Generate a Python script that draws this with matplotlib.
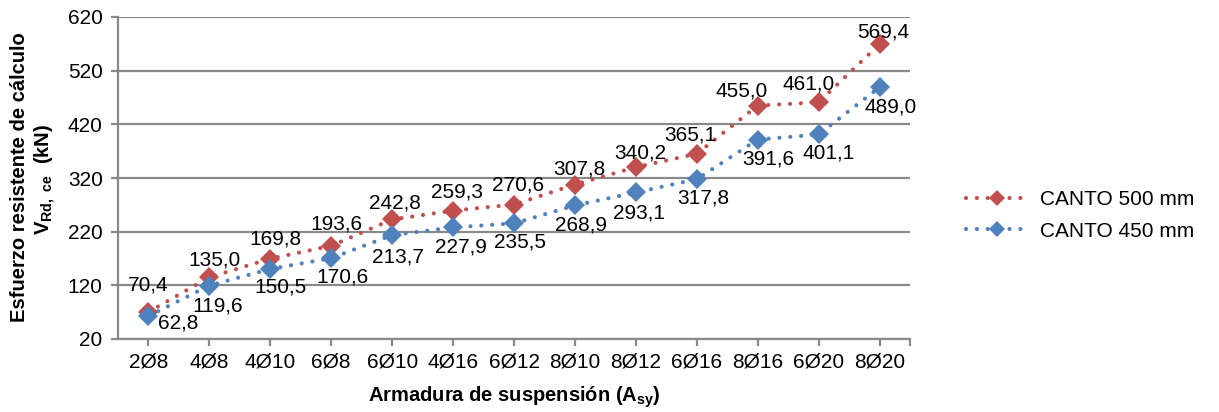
import matplotlib
matplotlib.use("Agg")
import matplotlib.pyplot as plt
from matplotlib.lines import Line2D

# --- data ---
armaduras = ["2Ø8", "4Ø8", "4Ø10", "6Ø8", "6Ø10", "4Ø16", "6Ø12",
             "8Ø10", "8Ø12", "6Ø16", "8Ø16", "6Ø20", "8Ø20"]
canto_500 = [70.4, 135.0, 169.8, 193.6, 242.8, 259.3, 270.6,
             307.8, 340.2, 365.1, 455.0, 461.0, 569.4]
canto_450 = [62.8, 119.6, 150.5, 170.6, 213.7, 227.9, 235.5,
             268.9, 293.1, 317.8, 391.6, 401.1, 489.0]

# desplazamiento de etiquetas (px, y hacia abajo positivo)
off_500 = [(0, -27), (5, -17), (5, -20), (5, -22), (3, -16), (4, -19), (4, -20),
           (4, -16), (4, -14), (-6, -19), (-16, -15), (-10, -18), (4, -12)]
off_450 = [(30, 7), (8, 20), (10, 18), (11, 19), (6, 22), (8, 20), (6, 19),
           (6, 20), (3, 21), (7, 19), (11, 19), (10, 19), (11, 20)]

RED = "#C0504D"
BLUE = "#4F81BD"
GRID = "#898989"
FS = 15

plt.rcParams["font.family"] = ["Liberation Sans", "DejaVu Sans"]
plt.rcParams["mathtext.fontset"] = "custom"
plt.rcParams["mathtext.rm"] = "Liberation Sans"
plt.rcParams["mathtext.bf"] = "Liberation Sans:bold"

fig = plt.figure(figsize=(12.19, 4.12), dpi=100)
ax = fig.add_axes([118 / 1219, 73 / 412, (910 - 118) / 1219, (339 - 17) / 412])

x = list(range(len(armaduras)))
dots = dict(linewidth=3.0, dashes=(0.01, 2.6), dash_capstyle="round")
ax.plot(x, canto_500, color=RED, marker="D", markersize=10.5, markeredgewidth=0, **dots)
ax.plot(x, canto_450, color=BLUE, marker="D", markersize=10.5, markeredgewidth=0, **dots)

px = 0.72  # puntos por pixel a 100 dpi
for serie, offs in ((canto_500, off_500), (canto_450, off_450)):
    for i, v in enumerate(serie):
        dx, dy = offs[i]
        ax.annotate(f"{v:.1f}".replace(".", ","), (i, v), xytext=(dx * px, -dy * px),
                    textcoords="offset points", ha="center", va="center", fontsize=FS)

ax.set_xlim(-0.5, 12.5)
ax.set_ylim(20, 620)
ax.set_yticks(range(20, 621, 100))
ax.set_xticks(x)
ax.set_xticklabels(armaduras)
ax.set_xticks([12.5], minor=True)
ax.grid(axis="y", color=GRID, linewidth=1.6)
ax.set_axisbelow(True)
for s in ["top", "right"]:
    ax.spines[s].set_visible(False)
for s in ["left", "bottom"]:
    ax.spines[s].set_color(GRID)
    ax.spines[s].set_linewidth(1.6)
ax.tick_params(axis="both", which="both", color=GRID, width=1.6, length=5,
               labelsize=FS)
ax.tick_params(axis="x", pad=5)
ax.tick_params(axis="y", pad=6)

# titulos de ejes
fig.text(20 / 1219, 1 - 177 / 412, "Esfuerzo resistente de cálculo",
         rotation=90, ha="center", va="center", fontsize=14.5, fontweight="bold")
fig.text(45 / 1219, 1 - 179 / 412, r"$\mathbf{V}_{\mathbf{Rd,\ ce}}$  (kN)",
         rotation=90, ha="center", va="center", fontsize=14.5, fontweight="bold")
ax.set_xlabel(r"Armadura de suspensión (A$_{\mathbf{sy}}$)", fontsize=14.5,
              fontweight="bold", labelpad=9)

handles = [
    Line2D([], [], color=c, marker="D", markersize=8.5, markeredgewidth=0, **dots)
    for c in (RED, BLUE)
]
fig.legend(handles, ["CANTO 500 mm", "CANTO 450 mm"], loc="center left",
           bbox_to_anchor=(966 / 1219, 1 - 215.5 / 412), frameon=False,
           fontsize=FS, handlelength=3.0, handletextpad=0.55, labelspacing=0.6,
           borderpad=0, borderaxespad=0)

fig.savefig("out.png", dpi=100)
